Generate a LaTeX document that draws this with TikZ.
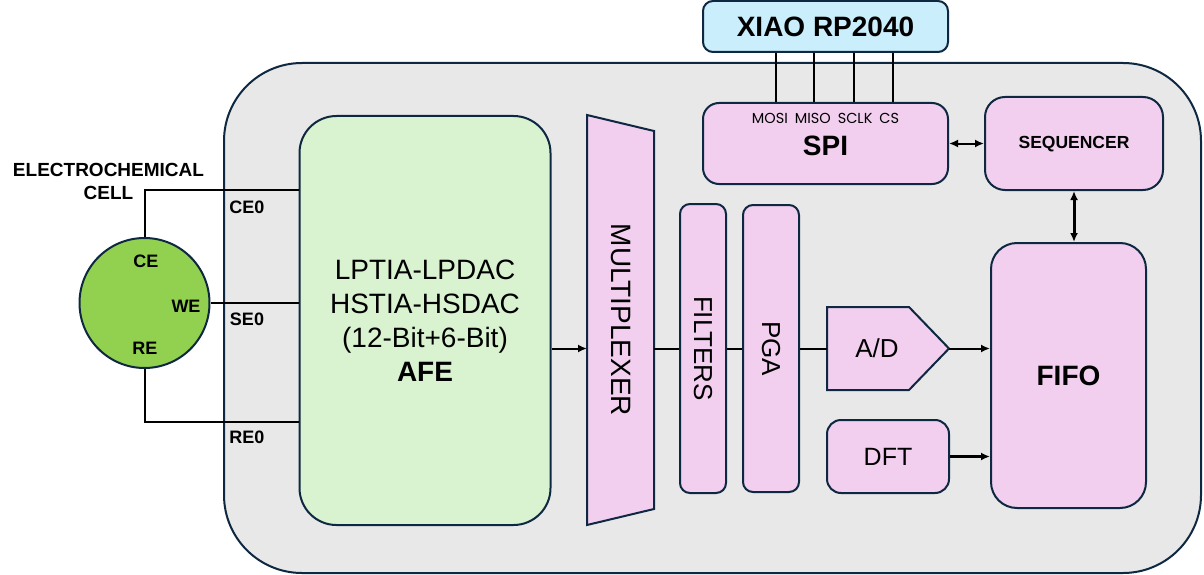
\documentclass[tikz,border=0pt]{standalone}
\usepackage{fontspec}
\setmainfont{Liberation Sans}
\newfontfamily\pinfont{Poppins}
\usetikzlibrary{calc,arrows.meta}
\definecolor{edgeblue}{HTML}{0E2841}
\definecolor{boardgrey}{HTML}{E8E8E8}
\definecolor{afegreen}{HTML}{D9F2D0}
\definecolor{blockpink}{HTML}{F2CEEF}
\definecolor{mcublue}{HTML}{CAEEFB}
\definecolor{cellgreen}{HTML}{92D050}
\newcommand{\fsz}[2]{\fontsize{#1}{#2}\selectfont}

\begin{document}
\begin{tikzpicture}[x=1pt, y=-1pt, line width=2pt, >={Latex[length=9pt,width=8pt]}]
  \tikzstyle{block}=[draw=edgeblue, line width=2pt, fill=blockpink, rounded corners=14pt, inner sep=0pt]
  \tikzstyle{vblock}=[block, rotate=-90, rounded corners=10pt, font=\fsz{26}{30}]
  \tikzstyle{plain}=[draw=edgeblue, line width=2pt, fill=blockpink]
  \tikzstyle{lbl}=[font=\bfseries\fsz{18}{20}, inner sep=0pt]

  \useasboundingbox (0,0) rectangle (1204,575);

  \node[draw=edgeblue, fill=boardgrey, rounded corners=78pt, minimum width=977pt, minimum height=510pt] (board) at (712.5,318) {};
  \node[block, fill=mcublue, rounded corners=10pt, minimum width=245pt, minimum height=51pt, font=\bfseries\fsz{28}{32}] (xiao) at (825.5,26.5) {XIAO RP2040};
  \node[block, rounded corners=16pt, minimum width=245pt, minimum height=81pt] (spi) at (825.5,143.5) {};
  \node[font=\pinfont\fsz{14.5}{16}, inner sep=0pt] (spipins) at (825.5,118) {MOSI\hspace{7pt}MISO\hspace{7pt}SCLK\hspace{7pt}CS};
  \node[font=\bfseries\fsz{28}{32}, inner sep=0pt] (spilabel) at (825.5,146) {SPI};
  \node[block, rounded corners=20pt, minimum width=178pt, minimum height=93pt] (seq) at (1074,143.5) {};
  \node[font=\bfseries\fsz{17.5}{20}, inner sep=0pt] (seqlabel) at (1074,144.5) {SEQUENCER};
  \node[block, rounded corners=26pt, minimum width=155pt, minimum height=265pt, font=\bfseries\fsz{28}{32}] (fifo) at (1068.5,375.5) {FIFO};

  \node[block, fill=afegreen, rounded corners=37pt, minimum width=251pt, minimum height=409pt, align=center, font=\fsz{28}{34}] (afe) at (425,320.5) {LPTIA-LPDAC\\HSTIA-HSDAC\\(12-Bit+6-Bit)\\\textbf{AFE}};

  \node[minimum width=65pt, minimum height=408pt, inner sep=0pt] (mux) at (620.5,320) {};
  \draw[plain] (mux.north west) -- ($(mux.north east)+(0,16)$) -- ($(mux.south east)+(0,-16)$) -- (mux.south west) -- cycle;
  \node[rotate=-90, font=\fsz{28}{32}] (muxlabel) at (mux) {MULTIPLEXER};

  \node[vblock, minimum width=289pt, minimum height=46pt] (filt) at (703,348.5) {FILTERS};
  \node[vblock, minimum width=287pt, minimum height=56pt] (pga) at (771,348.5) {PGA};

  \node[minimum width=120pt, minimum height=81pt, inner sep=0pt] (adc) at (888,348.5) {};
  \draw[plain] (adc.north west) -- ($(adc.north east)+(-40,0)$) -- (adc.east) -- ($(adc.south east)+(-40,0)$) -- (adc.south west) -- cycle;
  \node[font=\fsz{26}{30}] (adclabel) at ($(adc)+(-11,0)$) {A/D};
  \node[block, minimum width=122pt, minimum height=73pt, font=\fsz{25}{30}] (dft) at (888,456.5) {DFT};

  \node[circle, draw=edgeblue, fill=cellgreen, minimum size=130pt, inner sep=0pt] (cell) at (144.5,303) {};
  \node[lbl] (ce) at (146,261) {CE};
  \node[lbl] (we) at (186,306) {WE};
  \node[lbl] (re) at (145,348) {RE};
  \node[font=\bfseries\fsz{19}{23}, align=center] (celltitle) at (108.5,181) {ELECTROCHEMICAL\\CELL};
  \foreach \name / \y in {CE0/207, SE0/319, RE0/437}
    \node[lbl] (\name) at (247,\y) {\name};

  \draw (cell.north) |- (afe.west |- 0,190);
  \draw (cell.east) -- (afe.west |- cell.east);
  \draw (cell.south) |- (afe.west |- 0,422);

  \foreach \dx in {74,112,152,191}
    \draw[line width=1.5pt] ($(spi.north west)+(\dx,0)$) -- ($(xiao.south west)+(\dx,0)$);

  \draw[->] (afe.east |- adc) -- (mux.west |- adc);
  \draw (mux.east |- adc) -- (filt);
  \draw (filt) -- (pga);
  \draw (pga) -- (adc);
  \draw[->] (adc.east) -- (fifo.west |- adc);
  \draw[->, line width=3pt] (dft) -- (fifo.west |- dft);
  \draw[<->] (spi) -- (seq);
  \draw[<->, line width=3pt] (seq.south) -- (seq.south |- fifo.north);

\end{tikzpicture}
\end{document}
